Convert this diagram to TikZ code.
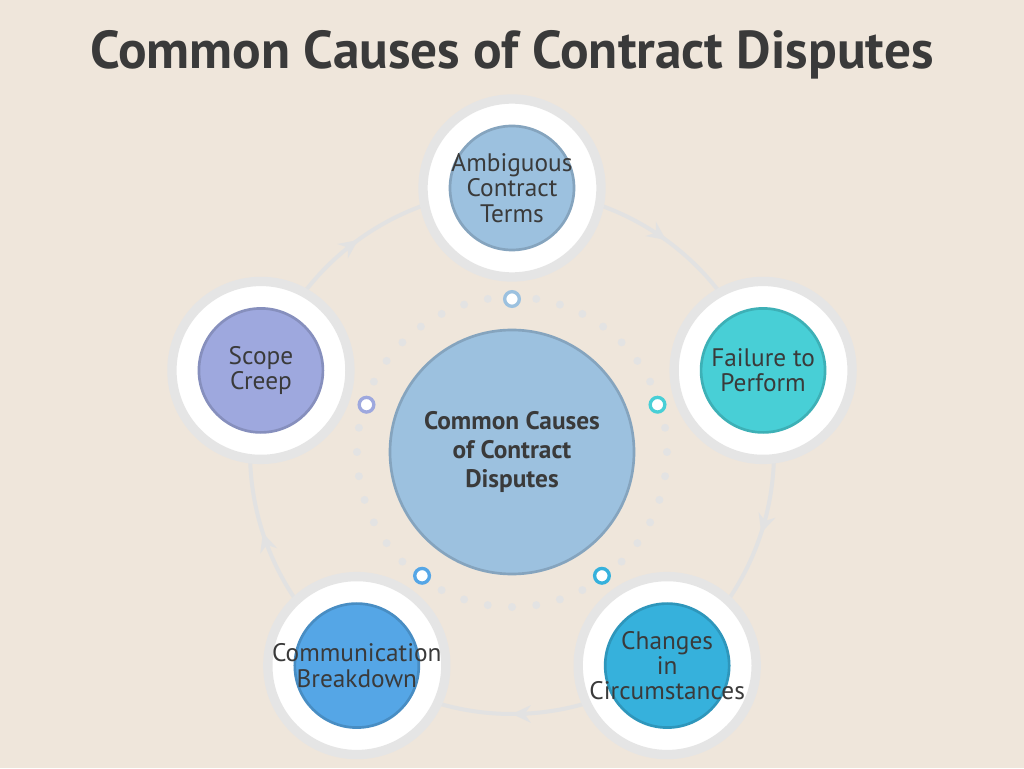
\documentclass[tikz,border=0pt]{standalone}
\usepackage{fontspec}
\setmainfont{PT Sans}
\usetikzlibrary{decorations.markings,arrows.meta,calc}
\definecolor{bg}{HTML}{EFE6DB}
\definecolor{txt}{HTML}{3A3A3A}
\definecolor{cA}{HTML}{9CC1DF}
\definecolor{cB}{HTML}{48CFD6}
\definecolor{cC}{HTML}{36B1DC}
\definecolor{cD}{HTML}{55A6E6}
\definecolor{cE}{HTML}{9EA8DE}
\definecolor{cM}{HTML}{9CC1DF}
\definecolor{lg}{HTML}{E2E2E2}
\tikzset{
 halo/.style={circle,fill=white,draw=black!10,line width=7pt,minimum size=178pt*0.75},
 inner/.style={circle,minimum size=124pt*0.75,inner sep=0pt,line width=2pt},
 lab/.style={text=txt,align=center,font=\fontsize{19}{19}\selectfont},
 marker/.style={circle,draw=#1,fill=white,line width=2.5pt,minimum size=11pt,inner sep=0pt},
 flow/.style={lg,line width=3pt,postaction={decorate},decoration={markings,mark=at position 0.5 with {\arrow{Stealth[length=14pt,width=13pt]}}}}
}
\begin{document}
\begin{tikzpicture}[x=0.75pt,y=0.75pt]
\fill[bg] (0,0) rectangle (1024,768);
\useasboundingbox (0,0) rectangle (1024,768);
\coordinate (c) at (512,316);
\node[text=txt,font=\fontsize{40}{40}\selectfont\bfseries] (title) at (512,713) {Common Causes of Contract Disputes};
\foreach \a/\b in {90/18,18/-54,-54/-126,-126/-198,162/90}{
  \draw[flow] ($(c)+(\a-19:262)$) arc[start angle=\a-19,end angle=\b+19,radius=262];
}
\foreach \t in {0,9,...,359}{\fill[black!11] ($(c)+(\t:155)$) circle (4);}
\node[circle,fill=cM,draw=cM!85!black,line width=2pt,minimum size=244*0.75pt,text=txt,align=center,font=\bfseries\fontsize{19}{22}\selectfont] (m) at (c) {Common Causes\\of Contract\\Disputes};
\foreach \ang/\nm/\col/\txt in {90/A/cA/{Ambiguous\\Contract\\Terms},18/B/cB/{Failure to\\Perform},-54/C/cC/{Changes\\in\\Circumstances},-126/D/cD/{Communication\\Breakdown},162/E/cE/{Scope\\Creep}}{
  \node[halo] (h\nm) at ($(c)+(\ang:264)$) {};
  \node[inner,fill=\col,draw=\col!85!black] (\nm) at (h\nm) {};
  \node[lab] (t\nm) at (\nm) {\txt};
  \node[marker=\col] (k\nm) at ($(c)+(\ang:153)$) {};
}
\end{tikzpicture}
\end{document}
